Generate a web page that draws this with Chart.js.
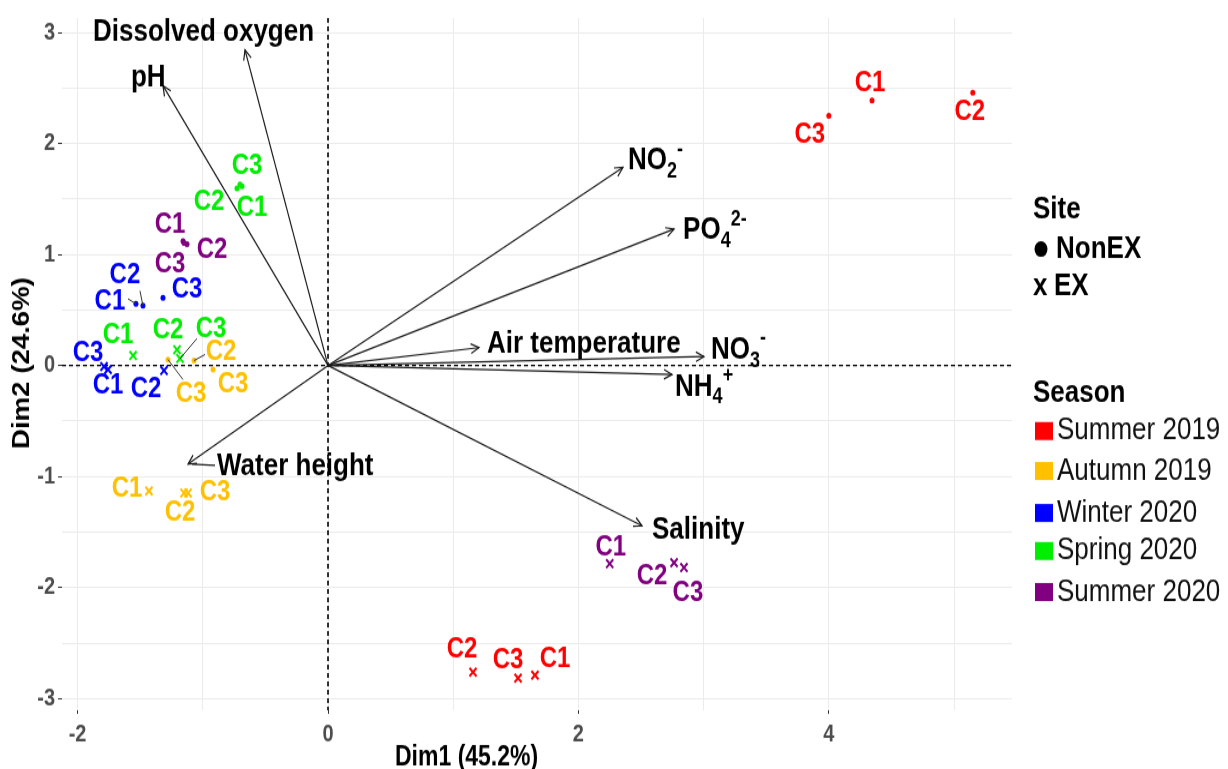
<!DOCTYPE html>
<html>
<head>
<meta charset="utf-8">
<script src="https://cdn.jsdelivr.net/npm/chart.js@4.4.1/dist/chart.umd.min.js"></script>
<style>
html, body { margin: 0; padding: 0; background: #fff; }
#wrap { width: 1228px; height: 769px; overflow: hidden; }
</style>
</head>
<body>
<div id="wrap"><canvas id="pca" width="1228" height="641" style="width:1228px;height:769px"></canvas></div>
<script>
// Samples (PCA individuals)
const seasons = ['Summer 2019', 'Autumn 2019', 'Winter 2020', 'Spring 2020', 'Summer 2020'];
const sites = ['NonEX', 'EX'];

const sampleSeason = [0, 0, 0, 0, 0, 0, 1, 1, 1, 1, 1, 1, 2, 2, 2, 2, 2, 2, 3, 3, 3, 3, 3, 3, 4, 4, 4, 4, 4, 4];
const sampleSite = ['NonEX', 'NonEX', 'NonEX', 'EX', 'EX', 'EX',
    'NonEX', 'NonEX', 'NonEX', 'EX', 'EX', 'EX',
    'NonEX', 'NonEX', 'NonEX', 'EX', 'EX', 'EX',
    'NonEX', 'NonEX', 'NonEX', 'EX', 'EX', 'EX',
    'NonEX', 'NonEX', 'NonEX', 'EX', 'EX', 'EX'];
const sampleName = ['C1', 'C2', 'C3', 'C1', 'C2', 'C3',
    'C3', 'C2', 'C3', 'C1', 'C2', 'C3',
    'C1', 'C2', 'C3', 'C1', 'C2', 'C3',
    'C1', 'C2', 'C3', 'C1', 'C2', 'C3',
    'C1', 'C2', 'C3', 'C1', 'C2', 'C3'];
const dim1 = [4.345, 5.15, 4.0, 1.653, 1.158, 1.518,
    -1.278, -1.07, -0.918, -1.43, -1.15, -1.118,
    -1.534, -1.478, -1.318, -1.757, -1.31, -1.789,
    -0.687, -0.727, -0.703, -1.557, -1.206, -1.182,
    -1.158, -1.126, -1.15, 2.25, 2.764, 2.843];
const dim2 = [2.386, 2.457, 2.25, -2.789, -2.762, -2.816,
    0.054, 0.045, -0.036, -1.13, -1.148, -1.148,
    0.556, 0.538, 0.61, -0.036, -0.045, -0.009,
    1.614, 1.596, 1.632, 0.09, 0.143, 0.063,
    1.121, 1.094, 1.103, -1.785, -1.776, -1.82];

// Variables (arrows)
const varNames = ['Dissolved oxygen', 'pH', 'NO2-', 'PO42-', 'Air temperature', 'NO3-', 'NH4+', 'Salinity', 'Water height'];
const varDim1 = [-0.663, -1.318, 2.356, 2.764, 1.206, 3.003, 2.748, 2.508, -1.118];
const varDim2 = [2.843, 2.52, 1.785, 1.229, 0.161, 0.081, -0.081, -1.444, -0.888];

const xTickLabels = [-2, 0, 2, 4];
const yTickLabels = [-3, -2, -1, 0, 1, 2, 3];

// ---- styling ----
const FONT = "'Liberation Sans', Arial, sans-serif";
const SY = 641 / 769; // canvas is drawn shorter and stretched like the original picture
const seasonColors = ['#ff0000', '#ffc000', '#0000ff', '#00ee00', '#800080'];

// label offsets from the point, in picture pixels [dx, dy], and optional leader end
const labelOffsets = [[-2, -18], [-3, 18], [-19, 18], [20, -17], [-11, -24], [-10, -19],
    [23, 33], [27, -10], [20, 14], [-22, -3], [-4, 18], [27, -2],
    [-26, -3], [-18, -32], [24, -9], [0, 15], [-18, 17], [-16, -14],
    [10, 21], [-28, 12], [7, -19], [-15, -21], [-9, -21], [31, -31],
    [-13, -17], [25, 5], [-14, 20], [1, -17], [-22, 12], [4, 24]];
const leaders = { 6: [15, 20], 7: [11, -6], 12: [-8, -5], 13: [-3, -15], 23: [17, -20] };

// variable label offsets from arrow tip [dx to text start, dy]
const varLabelOffsets = [[-152, -20], [-32, -11], [5, -9], [9, -1], [8, -6], [7, -9], [3, 10], [10, 2], [29, 0]];

// datasets
const datasets = [];
varNames.forEach((name, i) => {
    datasets.push({
        label: name,
        data: [{ x: 0, y: 0 }, { x: varDim1[i], y: varDim2[i] }],
        showLine: true,
        borderColor: '#1a1a1a',
        borderWidth: 1.2,
        pointRadius: 0
    });
});
seasons.forEach((season, s) => {
    sites.forEach(site => {
        const pts = [];
        dim1.forEach((x, i) => {
            if (sampleSeason[i] === s && sampleSite[i] === site) pts.push({ x: x, y: dim2[i] });
        });
        datasets.push({
            label: season + ' ' + site,
            data: pts,
            pointStyle: site === 'NonEX' ? 'circle' : 'crossRot',
            pointRadius: site === 'NonEX' ? 2.5 : 5,
            borderWidth: site === 'NonEX' ? 0 : 2,
            backgroundColor: seasonColors[s],
            borderColor: seasonColors[s]
        });
    });
});

function drawRich(ctx, name, x, y, size) {
    const m = name.match(/^([A-Za-z]+)(\d)(\S+)$/);
    ctx.textAlign = 'left';
    ctx.textBaseline = 'alphabetic';
    const base = y + size * 0.36;
    ctx.font = `bold ${size}px ${FONT}`;
    if (!m) {
        ctx.fillText(name, x, base);
        return;
    }
    ctx.fillText(m[1], x, base);
    let cx = x + ctx.measureText(m[1]).width;
    const small = Math.round(size * 0.68);
    ctx.font = `bold ${small}px ${FONT}`;
    ctx.fillText(m[2], cx, base + size * 0.25);
    cx += ctx.measureText(m[2]).width;
    ctx.fillText(m[3], cx, base - size * 0.45);
}

const biplotPlugin = {
    id: 'biplot',
    beforeDatasetsDraw(chart) {
        const { ctx, chartArea: a, scales } = chart;
        const x0 = scales.x.getPixelForValue(0);
        const y0 = scales.y.getPixelForValue(0);
        ctx.save();
        ctx.strokeStyle = '#000';
        ctx.setLineDash([4, 3]);
        ctx.lineWidth = 1.6;
        ctx.beginPath();
        ctx.moveTo(x0, a.top);
        ctx.lineTo(x0, a.bottom);
        ctx.stroke();
        ctx.lineWidth = 1.4;
        ctx.beginPath();
        ctx.moveTo(a.left, y0);
        ctx.lineTo(a.right, y0);
        ctx.stroke();
        ctx.restore();
    },
    afterDatasetsDraw(chart) {
        const { ctx, scales } = chart;
        const x0 = scales.x.getPixelForValue(0);
        const y0 = scales.y.getPixelForValue(0);
        ctx.save();
        // arrow heads + variable labels
        varNames.forEach((name, i) => {
            const tx = scales.x.getPixelForValue(varDim1[i]);
            const ty = scales.y.getPixelForValue(varDim2[i]);
            const ang = Math.atan2(ty - y0, tx - x0);
            const len = 9, spread = 0.45;
            ctx.strokeStyle = '#1a1a1a';
            ctx.lineWidth = 1.2;
            ctx.beginPath();
            ctx.moveTo(tx - len * Math.cos(ang - spread), ty - len * Math.sin(ang - spread));
            ctx.lineTo(tx, ty);
            ctx.lineTo(tx - len * Math.cos(ang + spread), ty - len * Math.sin(ang + spread));
            ctx.stroke();
            const off = varLabelOffsets[i];
            ctx.fillStyle = '#000';
            drawRich(ctx, name, tx + off[0], ty + off[1] * SY, 26);
            if (name === 'Water height') {
                ctx.beginPath();
                ctx.moveTo(tx + 4, ty);
                ctx.lineTo(tx + off[0] - 2, ty + 1);
                ctx.stroke();
            }
        });
        // sample labels
        ctx.font = `bold 24px ${FONT}`;
        ctx.textAlign = 'center';
        ctx.textBaseline = 'middle';
        sampleName.forEach((name, i) => {
            const px = scales.x.getPixelForValue(dim1[i]);
            const py = scales.y.getPixelForValue(dim2[i]);
            if (leaders[i]) {
                ctx.strokeStyle = '#333';
                ctx.lineWidth = 1;
                ctx.beginPath();
                ctx.moveTo(px, py);
                ctx.lineTo(px + leaders[i][0], py + leaders[i][1] * SY);
                ctx.stroke();
            }
            ctx.fillStyle = seasonColors[sampleSeason[i]];
            ctx.fillText(name, px + labelOffsets[i][0], py + labelOffsets[i][1] * SY + 1);
        });
        ctx.restore();
    },
    afterDraw(chart) {
        const ctx = chart.ctx;
        ctx.save();
        // axis titles
        ctx.fillStyle = '#000';
        ctx.font = `bold 23px ${FONT}`;
        ctx.textAlign = 'left';
        ctx.textBaseline = 'middle';
        ctx.fillText('Dim1 (45.2%)', 395, 758 * SY);
        ctx.save();
        ctx.translate(23, 363 * SY);
        ctx.rotate(-Math.PI / 2);
        ctx.textAlign = 'center';
        ctx.fillText('Dim2 (24.6%)', 0, 0);
        ctx.restore();

        // legend: Site
        ctx.fillStyle = '#000';
        ctx.font = `bold 26px ${FONT}`;
        ctx.fillText('Site', 1033, 210 * SY);
        ctx.beginPath();
        ctx.arc(1041, 249 * SY, 6.5, 0, Math.PI * 2);
        ctx.fill();
        ctx.fillText('NonEX', 1056, 249 * SY);
        ctx.fillText('x', 1033, 286 * SY);
        ctx.fillText('EX', 1054, 287 * SY);

        // legend: Season
        ctx.fillText('Season', 1033, 393 * SY);
        const rows = [431, 471, 513, 551, 592];
        ctx.font = `26px ${FONT}`;
        seasons.forEach((season, s) => {
            const cy = rows[s] * SY;
            ctx.fillStyle = seasonColors[s];
            ctx.fillRect(1035, cy - 9 * SY, 18, 18 * SY);
            ctx.fillStyle = '#111';
            ctx.fillText(season, 1057, cy);
        });
        ctx.restore();
    }
};

const gridColor = '#ebebeb';

new Chart(document.getElementById('pca').getContext('2d'), {
    type: 'scatter',
    data: { datasets },
    options: {
        responsive: false,
        animation: false,
        devicePixelRatio: 1,
        layout: { padding: { top: 12.5, right: 216, left: 0, bottom: 0 } },
        plugins: {
            legend: { display: false },
            tooltip: { enabled: false }
        },
        scales: {
            x: {
                type: 'linear',
                min: -2.1246,
                max: 5.463,
                afterFit: scale => { scale.height = 49; },
                border: { display: false },
                grid: {
                    color: gridColor,
                    lineWidth: 1,
                    tickLength: 3,
                    tickColor: c => xTickLabels.includes(c.tick.value) ? '#333' : 'rgba(0,0,0,0)'
                },
                ticks: {
                    stepSize: 1,
                    includeBounds: false,
                    autoSkip: false,
                    maxRotation: 0,
                    padding: 5,
                    color: '#4d4d4d',
                    font: { family: FONT, size: 20, weight: 'bold' },
                    callback: v => xTickLabels.includes(v) ? String(v) : ''
                }
            },
            y: {
                type: 'linear',
                min: -3.105,
                max: 3.13,
                afterFit: scale => { scale.width = 62; },
                border: { display: false },
                grid: {
                    color: gridColor,
                    lineWidth: 1,
                    tickLength: 4,
                    tickColor: c => yTickLabels.includes(c.tick.value) ? '#333' : 'rgba(0,0,0,0)'
                },
                ticks: {
                    stepSize: 0.5,
                    includeBounds: false,
                    autoSkip: false,
                    padding: 3,
                    color: '#4d4d4d',
                    font: { family: FONT, size: 20, weight: 'bold' },
                    callback: v => yTickLabels.includes(v) ? String(v) : ''
                }
            }
        }
    },
    plugins: [biplotPlugin]
});
</script>
</body>
</html>
